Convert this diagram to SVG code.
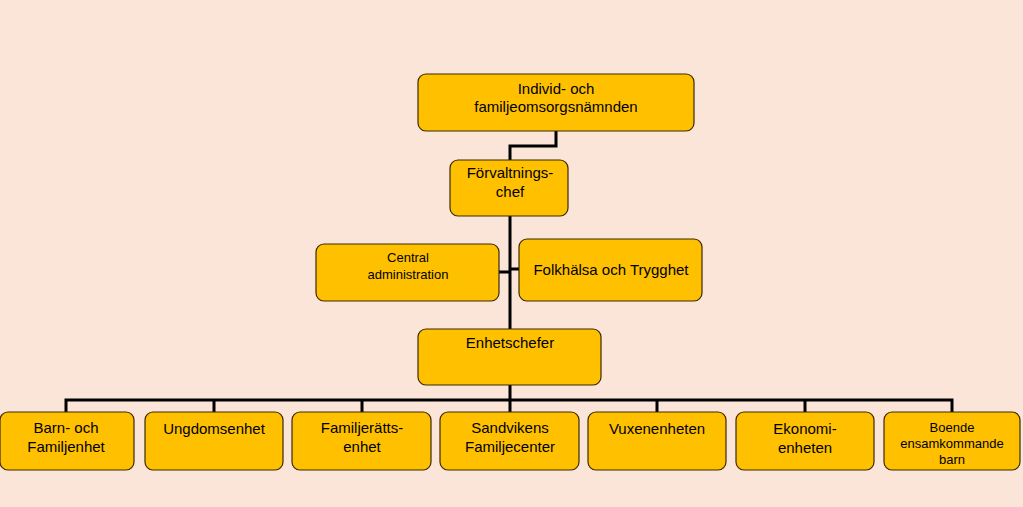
<svg xmlns="http://www.w3.org/2000/svg" width="1023" height="507" viewBox="0 0 1023 507">
<style>
.b{fill:#FFC000;stroke:#3a2a00;stroke-width:1.2}
.t{font-family:"Liberation Sans",Arial,sans-serif;font-size:15px;fill:#000;text-anchor:middle}
.s{font-size:13px}
.c{stroke:#000;stroke-width:3;fill:none}
</style>
<rect width="1023" height="507" fill="#FBE5D8"/>
<g id="connectors">
<path class="c" d="M556,131 V146 H510 V160" stroke-width="4"/>
<path class="c" d="M510,216 V329"/>
<path class="c" d="M499,272 H510 M510,269 H519" stroke-width="4"/>
<path class="c" d="M510,385 V400 M66,412 V400 H952 V412 M214,400 V412 M362,400 V412 M510,400 V412 M657,400 V412 M805,400 V412"/>
</g>
<g id="n1"><rect class="b" x="418" y="74" width="276" height="57" rx="8"/><text class="t" x="556" y="94">Individ- och</text><text class="t" x="556" y="112">familjeomsorgsnämnden</text></g>
<g id="n2"><rect class="b" x="450" y="160" width="118" height="56" rx="8"/><text class="t" x="510" y="178">Förvaltnings-</text><text class="t" x="510" y="197">chef</text></g>
<g id="n3"><rect class="b" x="316" y="244" width="183" height="57" rx="8"/><text class="t s" x="408" y="262">Central</text><text class="t s" x="408" y="279">administration</text></g>
<g id="n4"><rect class="b" x="519" y="239" width="183" height="62" rx="8"/><text class="t" x="611" y="275">Folkhälsa och Trygghet</text></g>
<g id="n5"><rect class="b" x="418" y="329" width="183" height="56" rx="8"/><text class="t" x="510" y="348">Enhetschefer</text></g>
<g id="n6"><rect class="b" x="0" y="412" width="134" height="58" rx="8"/><text class="t" x="66" y="433">Barn- och</text><text class="t" x="66" y="452">Familjenhet</text></g>
<g id="n7"><rect class="b" x="145" y="412" width="138" height="58" rx="8"/><text class="t" x="214" y="434">Ungdomsenhet</text></g>
<g id="n8"><rect class="b" x="292" y="412" width="139" height="58" rx="8"/><text class="t" x="362" y="433">Familjerätts-</text><text class="t" x="362" y="452">enhet</text></g>
<g id="n9"><rect class="b" x="440" y="412" width="139" height="58" rx="8"/><text class="t" x="510" y="433">Sandvikens</text><text class="t" x="510" y="452">Familjecenter</text></g>
<g id="n10"><rect class="b" x="588" y="412" width="138" height="58" rx="8"/><text class="t" x="657" y="434">Vuxenenheten</text></g>
<g id="n11"><rect class="b" x="736" y="412" width="138" height="58" rx="8"/><text class="t" x="805" y="434">Ekonomi-</text><text class="t" x="805" y="453">enheten</text></g>
<g id="n12"><rect class="b" x="884" y="412" width="136" height="58" rx="8"/><text class="t s" x="952" y="432">Boende</text><text class="t s" x="952" y="448">ensamkommande</text><text class="t s" x="952" y="464">barn</text></g>
</svg>
